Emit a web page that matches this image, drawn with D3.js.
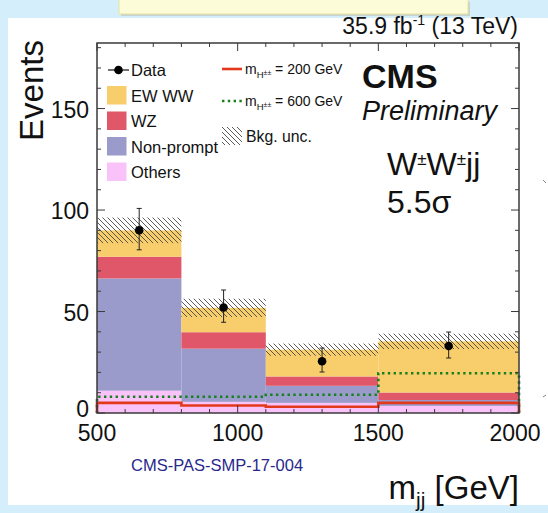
<!DOCTYPE html>
<html>
<head>
<meta charset="utf-8">
<script src="https://cdn.jsdelivr.net/npm/d3@7"></script>
<style>
  html, body { margin: 0; padding: 0; background: #d5eefb; }
  svg { display: block; font-family: "Liberation Sans", Arial, Helvetica, sans-serif; }
</style>
</head>
<body>
<svg id="chart" width="548" height="513"></svg>
<script>
// m_jj bins (GeV)
const binEdges = [500, 800, 1100, 1500, 2000];
// stacked background / signal yields per bin (bottom to top)
const others    = [11.0, 5.5, 5.0, 3.5];
const nonPrompt = [55.3, 26.2, 8.4, 2.9];
const wz        = [10.7, 8.1, 4.6, 3.7];
const ewWW      = [13.0, 12.0, 13.2, 25.2];
// total background uncertainty (symmetric)
const bkgUnc    = [6.3, 4.5, 3.0, 3.8];
// observed data with asymmetric errors
const dataCounts = [90, 52, 25.5, 33];
const dataErrUp  = [10.8, 8.6, 6.5, 6.9];
const dataErrDn  = [9.6, 7.3, 5.3, 5.9];
// charged Higgs benchmark shapes
const higgs200 = [5.0, 3.7, 3.1, 5.0];
const higgs600 = [8.0, 8.0, 9.0, 19.6];
// axis ticks
const xTicks = [500, 1000, 1500, 2000];
const yTicks = [0, 50, 100, 150];

const components = [
  { name: "Others",     values: others,    color: "#f9c2f9" },
  { name: "Non-prompt", values: nonPrompt, color: "#9a9acb" },
  { name: "WZ",         values: wz,        color: "#df5769" },
  { name: "EW WW",      values: ewWW,      color: "#f8cd6c" }
];

const svg = d3.select("#chart");

// slide panel
svg.append("rect").attr("x", 8).attr("y", 18).attr("width", 540).attr("height", 487).attr("fill", "#ffffff");
// header box at the top of the slide
svg.append("rect").attr("x", 121).attr("y", 2).attr("width", 349).attr("height", 14)
  .attr("fill", "#b8b8a8").attr("opacity", 0.5);
svg.append("rect").attr("x", 119).attr("y", -2).attr("width", 349).attr("height", 16)
  .attr("fill", "#fdfcd8").attr("stroke", "#e6e2a0").attr("stroke-width", 1);

const x = d3.scaleLinear().domain([500, 2000]).range([97, 519]);
const y = d3.scaleLinear().domain([0, 182.3]).range([413, 43]);

const defs = svg.append("defs");
const pat = defs.append("pattern").attr("id", "hatch").attr("patternUnits", "userSpaceOnUse")
  .attr("width", 5).attr("height", 5);
pat.append("path").attr("d", "M-1,-1 L6,6 M-1,4 L1,6 M4,-1 L6,1")
  .attr("stroke", "#4a4a4a").attr("stroke-width", 0.9);

const nBins = binEdges.length - 1;
const bins = d3.range(nBins).map(i => ({ i, x0: binEdges[i], x1: binEdges[i + 1] }));

// stacked histogram
const stackRows = bins.map(b => {
  const row = { i: b.i };
  components.forEach(c => row[c.name] = c.values[b.i]);
  return row;
});
const stacked = d3.stack().keys(components.map(c => c.name))(stackRows);
stacked.forEach((layer, k) => {
  svg.append("g").selectAll("rect").data(layer).join("rect")
    .attr("x", d => x(binEdges[d.data.i]))
    .attr("width", d => x(binEdges[d.data.i + 1]) - x(binEdges[d.data.i]))
    .attr("y", d => y(d[1]))
    .attr("height", d => y(d[0]) - y(d[1]))
    .attr("fill", components[k].color);
});
const totals = bins.map(b => d3.sum(components, c => c.values[b.i]));

// background uncertainty band
svg.append("g").selectAll("rect").data(bins).join("rect")
  .attr("x", b => x(b.x0))
  .attr("width", b => x(b.x1) - x(b.x0))
  .attr("y", b => y(totals[b.i] + bkgUnc[b.i]))
  .attr("height", b => y(totals[b.i] - bkgUnc[b.i]) - y(totals[b.i] + bkgUnc[b.i]))
  .attr("fill", "url(#hatch)");

// step outline for the signal benchmarks
function stepPoints(vals) {
  const pts = [[binEdges[0], 0]];
  vals.forEach((v, i) => { pts.push([binEdges[i], v]); pts.push([binEdges[i + 1], v]); });
  pts.push([binEdges[nBins], 0]);
  return pts;
}
const stepLine = d3.line().x(d => x(d[0])).y(d => y(d[1]));
svg.append("path").attr("d", stepLine(stepPoints(higgs600)))
  .attr("fill", "none").attr("stroke", "#16801c").attr("stroke-width", 2.6)
  .attr("stroke-dasharray", "2.4,3.4");
svg.append("path").attr("d", stepLine(stepPoints(higgs200)))
  .attr("fill", "none").attr("stroke", "#e2381c").attr("stroke-width", 2.6);

// frame and ticks
const axisColor = "#3a3a3a";
const g = svg.append("g");
g.append("rect").attr("x", x(500)).attr("y", y(182.3)).attr("width", x(2000) - x(500))
  .attr("height", y(0) - y(182.3)).attr("fill", "none").attr("stroke", axisColor).attr("stroke-width", 1.5);

const xMinor = d3.range(500, 2001, 100);
xMinor.forEach(v => {
  const len = xTicks.includes(v) ? 8 : 4;
  g.append("line").attr("x1", x(v)).attr("x2", x(v)).attr("y1", y(0)).attr("y2", y(0) - len)
    .attr("stroke", axisColor).attr("stroke-width", 1);
  g.append("line").attr("x1", x(v)).attr("x2", x(v)).attr("y1", y(182.3)).attr("y2", y(182.3) + len)
    .attr("stroke", axisColor).attr("stroke-width", 1);
});
const yMinor = d3.range(0, 181, 10);
yMinor.forEach(v => {
  const len = yTicks.includes(v) ? 8 : 4;
  g.append("line").attr("x1", x(500)).attr("x2", x(500) + len).attr("y1", y(v)).attr("y2", y(v))
    .attr("stroke", axisColor).attr("stroke-width", 1);
  g.append("line").attr("x1", x(2000)).attr("x2", x(2000) - len).attr("y1", y(v)).attr("y2", y(v))
    .attr("stroke", axisColor).attr("stroke-width", 1);
});

// tick labels
svg.append("g").selectAll("text").data(xTicks).join("text")
  .attr("x", d => d === 2000 ? x(d) - 4 : x(d)).attr("y", 441)
  .attr("text-anchor", "middle").attr("font-size", 23).attr("fill", "#111")
  .text(d => d);
svg.append("g").selectAll("text").data(yTicks).join("text")
  .attr("x", 89).attr("y", d => d === 0 ? y(d) + 4 : y(d) + 9)
  .attr("text-anchor", "end").attr("font-size", 23).attr("fill", "#111")
  .text(d => d);

// axis titles
svg.append("text").attr("transform", "translate(43,40) rotate(-90)")
  .attr("text-anchor", "end").attr("font-size", 33).attr("fill", "#111").text("Events");
const xt = svg.append("text").attr("x", 519).attr("y", 499).attr("text-anchor", "end")
  .attr("font-size", 33).attr("fill", "#111");
xt.append("tspan").text("m");
xt.append("tspan").attr("font-size", 21).attr("dy", 8).text("jj");
xt.append("tspan").attr("dy", -8).text(" [GeV]");

// luminosity label
const lumi = svg.append("text").attr("x", 518).attr("y", 34).attr("text-anchor", "end")
  .attr("font-size", 23).attr("fill", "#111");
lumi.append("tspan").text("35.9 fb");
lumi.append("tspan").attr("font-size", 14).attr("dy", -9).text("-1");
lumi.append("tspan").attr("dy", 9).text(" (13 TeV)");

// CMS labels
svg.append("text").attr("x", 362).attr("y", 88).attr("font-size", 34).attr("font-weight", "bold")
  .attr("fill", "#111").text("CMS");
svg.append("text").attr("x", 362).attr("y", 120).attr("font-size", 27).attr("font-style", "italic")
  .attr("fill", "#111").text("Preliminary");
const ww = svg.append("text").attr("x", 387).attr("y", 175).attr("font-size", 32).attr("fill", "#111");
ww.append("tspan").text("W");
ww.append("tspan").attr("font-size", 17).attr("dy", -10).text("±");
ww.append("tspan").attr("dy", 10).text("W");
ww.append("tspan").attr("font-size", 17).attr("dy", -10).text("±");
ww.append("tspan").attr("dy", 10).text("jj");
svg.append("text").attr("x", 387).attr("y", 213).attr("font-size", 32).attr("fill", "#111").text("5.5σ");

// reference tag
svg.append("text").attr("x", 131).attr("y", 471).attr("font-size", 16.5).attr("fill", "#28288c")
  .text("CMS-PAS-SMP-17-004");

// legend, left column
const legRows = [70, 95.5, 121, 146.5, 172];
const lg = svg.append("g").attr("font-size", 16.5).attr("fill", "#111");
lg.append("line").attr("x1", 108).attr("x2", 129).attr("y1", legRows[0]).attr("y2", legRows[0])
  .attr("stroke", "#111").attr("stroke-width", 1.2);
lg.append("circle").attr("cx", 118.5).attr("cy", legRows[0]).attr("r", 4.3).attr("fill", "#000");
lg.append("text").attr("x", 131).attr("y", legRows[0] + 6).text("Data");
const legendStack = components.slice().reverse();
legendStack.forEach((c, k) => {
  const yy = legRows[k + 1];
  lg.append("rect").attr("x", 107).attr("y", yy - 9.5).attr("width", 19.5).attr("height", 18.5)
    .attr("fill", c.color);
  lg.append("text").attr("x", 131).attr("y", yy + 6).text(c.name);
});

// legend, right column
function massLabel(yy, mass) {
  const t = lg.append("text").attr("x", 245).attr("y", yy + 5).attr("font-size", 14);
  t.append("tspan").text("m");
  t.append("tspan").attr("font-size", 9.5).attr("dy", 4).text("H");
  t.append("tspan").attr("font-size", 7).attr("dy", -3).text("±±");
  t.append("tspan").attr("dy", -1).text(" = " + mass + " GeV");
}
lg.append("line").attr("x1", 222).attr("x2", 242).attr("y1", 69).attr("y2", 69)
  .attr("stroke", "#e2381c").attr("stroke-width", 2.6);
massLabel(69, 200);
lg.append("line").attr("x1", 222).attr("x2", 242).attr("y1", 101).attr("y2", 101)
  .attr("stroke", "#16801c").attr("stroke-width", 2.6).attr("stroke-dasharray", "2.4,3.4");
massLabel(101, 600);
lg.append("rect").attr("x", 222).attr("y", 127).attr("width", 20).attr("height", 18)
  .attr("fill", "url(#hatch)");
lg.append("text").attr("x", 246).attr("y", 141.5).attr("font-size", 15.8).text("Bkg. unc.");

// observed data points
const dg = svg.append("g");
bins.forEach(b => {
  const cx = x((b.x0 + b.x1) / 2);
  const v = dataCounts[b.i];
  const top = y(v + dataErrUp[b.i]), bot = y(v - dataErrDn[b.i]);
  dg.append("line").attr("x1", cx).attr("x2", cx).attr("y1", top).attr("y2", bot)
    .attr("stroke", "#222").attr("stroke-width", 1);
  [top, bot].forEach(yy => dg.append("line").attr("x1", cx - 2.5).attr("x2", cx + 2.5)
    .attr("y1", yy).attr("y2", yy).attr("stroke", "#222").attr("stroke-width", 1));
  dg.append("circle").attr("cx", cx).attr("cy", y(v)).attr("r", 4.3).attr("fill", "#000");
});

// small slide marks on the right edge
svg.append("path").attr("d", "M543,180 L546,183").attr("stroke", "#888").attr("stroke-width", 1).attr("fill", "none");
svg.append("path").attr("d", "M546,395 L543,397").attr("stroke", "#888").attr("stroke-width", 1).attr("fill", "none");
</script>
</body>
</html>
